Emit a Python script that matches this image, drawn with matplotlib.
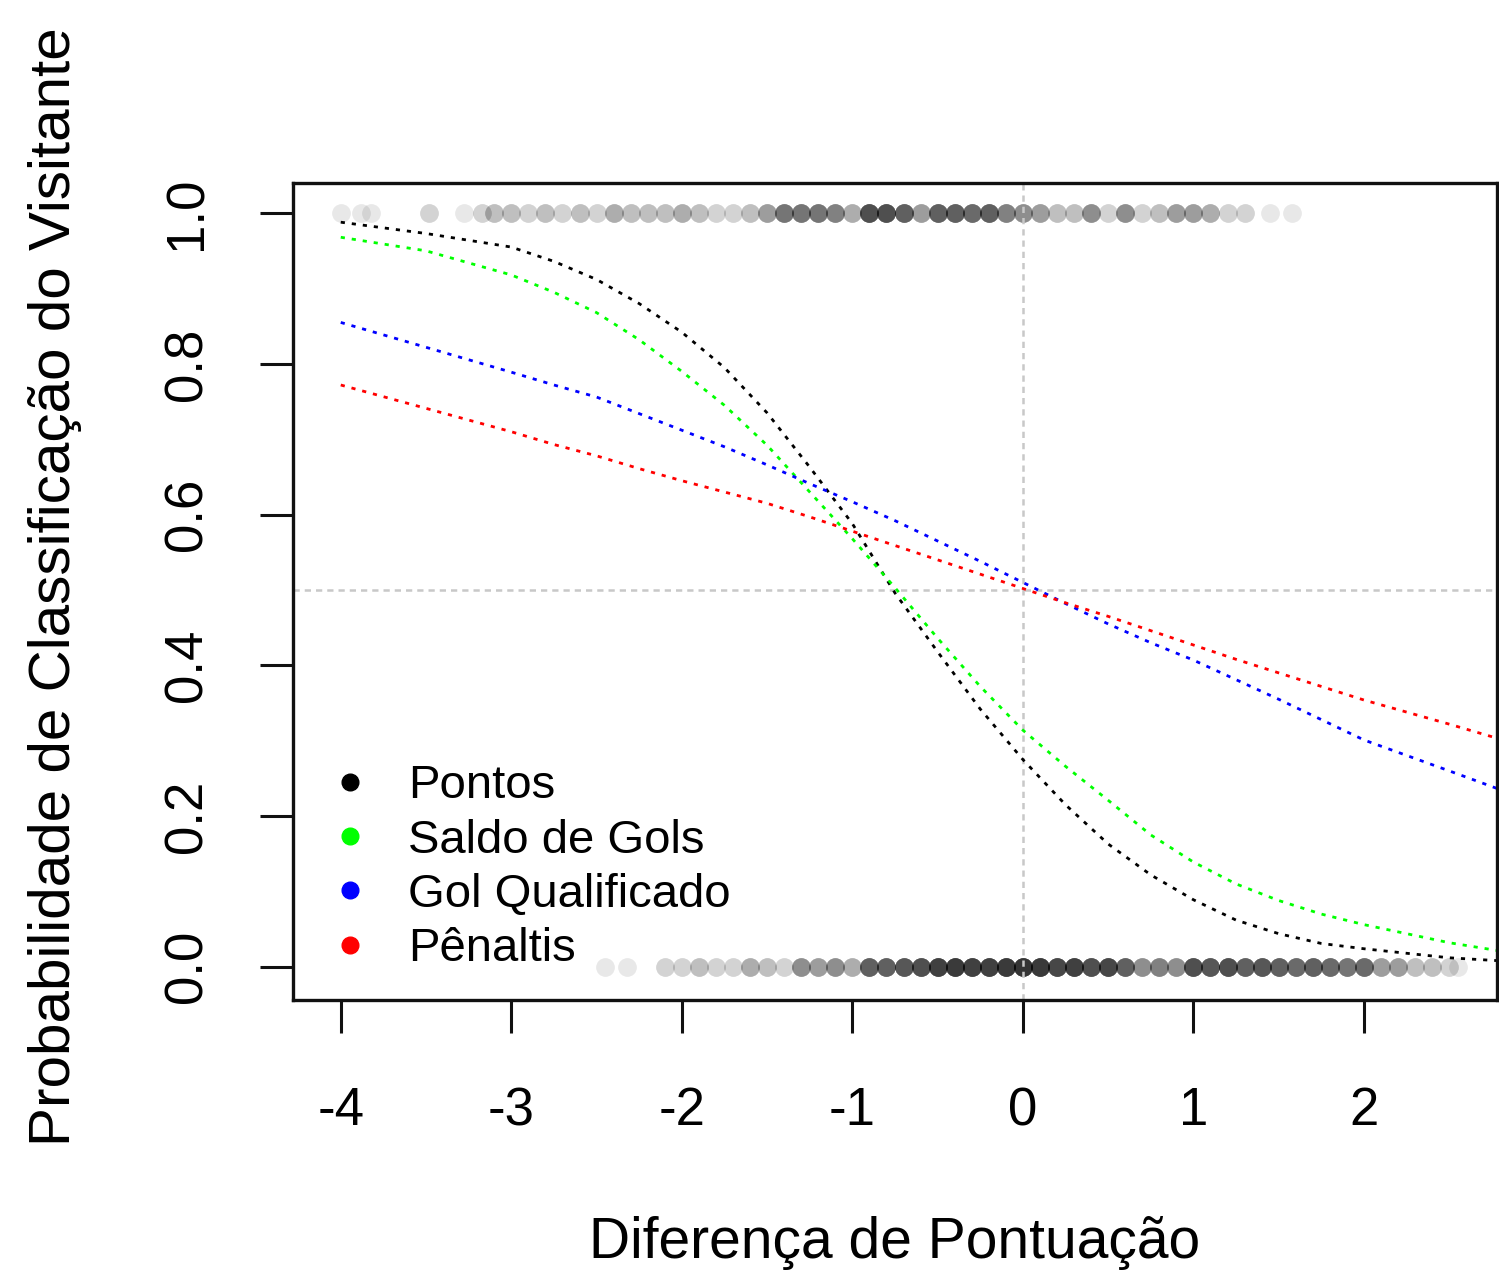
import numpy as np
import matplotlib
matplotlib.use("Agg")
import matplotlib.pyplot as plt
from matplotlib.lines import Line2D

plt.rcParams['font.family'] = ['Liberation Sans', 'DejaVu Sans']
plt.rcParams['axes.unicode_minus'] = False

# observed outcomes (x position, how many overlapping points)
top_pos = [-4.0, -3.88, -3.82, -3.48, -3.28, -3.17, -3.1, -3.0, -2.9, -2.8, -2.7, -2.6, -2.5, -2.4,
           -2.3, -2.2, -2.1, -2.0, -1.9, -1.8, -1.7, -1.6, -1.5, -1.4, -1.3, -1.2, -1.1, -1.0, -0.9,
           -0.8, -0.7, -0.6, -0.5, -0.4, -0.3, -0.2, -0.1, 0.0, 0.1, 0.2, 0.3, 0.4, 0.5, 0.6, 0.7,
           0.8, 0.9, 1.0, 1.1, 1.2, 1.3, 1.45, 1.58]
top_cnt = [1, 1, 1, 2, 1, 2, 3, 3, 2, 3, 2, 3, 2, 4, 3, 3, 3, 4, 3, 2, 2, 3, 5, 8, 8, 8, 7, 4, 12,
           12, 10, 5, 10, 10, 9, 10, 7, 6, 5, 3, 3, 6, 2, 6, 2, 3, 5, 5, 4, 2, 2, 1, 1]
bot_pos = [-2.45, -2.32, -2.1, -2.0, -1.9, -1.8, -1.7, -1.6, -1.5, -1.4, -1.3, -1.2, -1.1, -1.0,
           -0.9, -0.8, -0.7, -0.6, -0.5, -0.4, -0.3, -0.2, -0.1, 0.0, 0.1, 0.2, 0.3, 0.4, 0.5, 0.6,
           0.7, 0.8, 0.9, 1.0, 1.1, 1.2, 1.3, 1.4, 1.5, 1.6, 1.7, 1.8, 1.9, 2.0, 2.1, 2.2, 2.3, 2.4,
           2.5, 2.55]
bot_cnt = [1, 1, 2, 2, 3, 2, 2, 4, 3, 2, 6, 5, 6, 4, 10, 10, 11, 12, 14, 15, 14, 14, 15, 16, 15,
           13, 14, 12, 13, 10, 6, 7, 6, 12, 11, 12, 10, 11, 10, 9, 10, 9, 8, 9, 5, 5, 3, 3, 2, 1]

# fitted curves
curve_x = [-4, -3.5, -3, -2.75, -2.5, -2.25, -2, -1.75, -1.5, -1.25, -1, -0.75, -0.5, -0.25, 0,
           0.25, 0.5, 0.75, 1, 1.25, 1.5, 1.75, 2, 2.5, 2.8]
pontos = [0.988, 0.973, 0.955, 0.936, 0.912, 0.88, 0.842, 0.795, 0.735, 0.663, 0.588, 0.496,
          0.418, 0.342, 0.275, 0.215, 0.163, 0.122, 0.089, 0.062, 0.044, 0.031, 0.024, 0.012, 0.008]
saldo = [0.968, 0.95, 0.918, 0.895, 0.868, 0.832, 0.79, 0.745, 0.692, 0.63, 0.568, 0.503,
         0.436, 0.372, 0.314, 0.266, 0.221, 0.175, 0.139, 0.11, 0.088, 0.07, 0.056, 0.032, 0.021]
gol_q = [0.855, 0.822, 0.789, 0.772, 0.756, 0.734, 0.712, 0.69, 0.666, 0.641, 0.617, 0.592,
         0.565, 0.538, 0.51, 0.482, 0.455, 0.43, 0.407, 0.381, 0.355, 0.328, 0.301, 0.26, 0.235]
penal = [0.772, 0.741, 0.71, 0.693, 0.678, 0.661, 0.645, 0.63, 0.615, 0.597, 0.578, 0.559,
         0.54, 0.521, 0.502, 0.483, 0.465, 0.446, 0.427, 0.408, 0.39, 0.372, 0.354, 0.322, 0.302]

labels = ['Pontos', 'Saldo de Gols', 'Gol Qualificado', 'Pênaltis']
colors = ['#000000', '#00ff00', '#0000ff', '#ff0000']

fig = plt.figure(figsize=(14.99, 12.72), dpi=100)
ax = fig.add_axes([293 / 1499, 1 - 1000 / 1272, (1497 - 293) / 1499, (1000 - 183) / 1272])

top_x = np.repeat(top_pos, top_cnt)
bot_x = np.repeat(bot_pos, bot_cnt)
ax.plot(top_x, np.ones(len(top_x)), 'o', color='black', alpha=0.09, ms=13.5, mew=0)
ax.plot(bot_x, np.zeros(len(bot_x)), 'o', color='black', alpha=0.09, ms=13.5, mew=0)

ax.axvline(0, color='#c8c8c8', lw=1.8, linestyle=(0, (2.5, 2)))
ax.axhline(0.5, color='#c8c8c8', lw=1.8, linestyle=(0, (2.5, 2)))

for ys, c in zip([pontos, saldo, gol_q, penal], colors):
    ax.plot(curve_x, ys, color=c, lw=2.0, linestyle=(0, (1.5, 2.5)))

ax.set_xlim(-4.28, 2.78)
ax.set_ylim(-0.044, 1.04)
ax.set_xticks([-4, -3, -2, -1, 0, 1, 2])
ax.set_yticks([0.0, 0.2, 0.4, 0.6, 0.8, 1.0])
ax.set_yticklabels(['0.0', '0.2', '0.4', '0.6', '0.8', '1.0'], rotation=90, va='center')
ax.tick_params(axis='both', labelsize=38, length=24, width=2.2, pad=34, color='#111111')
ax.tick_params(axis='x', pad=38)
for s in ax.spines.values():
    s.set_linewidth(2.4)
    s.set_color('#111111')

handles = [Line2D([], [], marker='o', linestyle='', color=c, ms=12) for c in colors]
ax.legend(handles, labels, loc='lower left', bbox_to_anchor=(0.0274, 0.035), frameon=False,
          fontsize=34, handlelength=1.0, handletextpad=0.73, labelspacing=0.22,
          borderpad=0, borderaxespad=0)

fig.text(895 / 1499, 1 - 1243 / 1272, 'Diferença de Pontuação', fontsize=41,
         ha='center', va='center')
fig.text(55 / 1499, 1 - 587 / 1272, 'Probabilidade de Classificação do Visitante', fontsize=42,
         ha='center', va='center', rotation=90)

fig.savefig('out.png', dpi=100)
